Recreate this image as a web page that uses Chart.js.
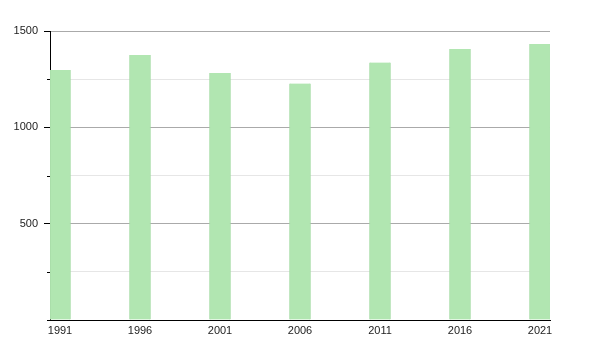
<!DOCTYPE html>
<html>
<head>
<meta charset="utf-8">
<script src="https://cdn.jsdelivr.net/npm/chart.js@4"></script>
<style>
  html, body { margin: 0; padding: 0; background: #fff; }
  #wrap { width: 600px; height: 350px; }
</style>
</head>
<body>
<div id="wrap"><canvas id="myChart" width="600" height="350"></canvas></div>
<script>
const years = [1991, 1996, 2001, 2006, 2011, 2016, 2021];
const population = [1297, 1375, 1282, 1227, 1336, 1406, 1432];
const yMajorTicks = [500, 1000, 1500];
const yMinorTicks = [0, 250, 750, 1250];

// short tick marks for the minor steps
const minorTicks = {
    id: 'minorTicks',
    afterDraw(chart) {
        const y = chart.scales.y
        const ctx = chart.ctx
        ctx.save()
        ctx.strokeStyle = '#000'
        ctx.lineWidth = 1
        yMinorTicks.forEach(v => {
            const py = Math.round(y.getPixelForValue(v)) + 0.5
            ctx.beginPath()
            ctx.moveTo(chart.chartArea.left - 3, py)
            ctx.lineTo(chart.chartArea.left, py)
            ctx.stroke()
        })
        ctx.restore()
    }
}

const ctx = document.getElementById('myChart');
new Chart(ctx, {
    type: 'bar',
    data: {
        datasets: [{
            data: years.map((yr, i) => ({ x: yr, y: population[i] })),
            backgroundColor: '#b1e6b1',
            borderColor: '#a6dca6',
            borderWidth: { left: 1, right: 1, top: 0, bottom: 0 },
            barThickness: 21
        }]
    },
    plugins: [minorTicks],
    options: {
        responsive: false,
        animation: false,
        layout: { padding: { left: 0, right: 50, top: 31, bottom: 0 } },
        plugins: {
            legend: { display: false },
            tooltip: { enabled: false }
        },
        scales: {
            x: {
                type: 'linear',
                offset: false,
                min: 1990.375,
                max: 2021.625,
                afterBuildTicks: scale => { scale.ticks = years.map(v => ({ value: v })) },
                afterFit: scale => { scale.height = 30 },
                grid: { display: false, drawTicks: false, offset: false },
                border: { display: true, color: '#000', width: 1 },
                ticks: {
                    autoSkip: false,
                    maxRotation: 0,
                    padding: 4,
                    color: '#222',
                    font: { family: 'Liberation Sans', size: 11 },
                    callback: v => String(v)
                }
            },
            y: {
                min: 0,
                max: 1500,
                afterBuildTicks: scale => {
                    scale.ticks = [0, 250, 500, 750, 1000, 1250, 1500].map(v => ({ value: v }))
                },
                afterFit: scale => { scale.width = 50 },
                border: { display: true, color: '#000', width: 1 },
                grid: {
                    color: c => yMajorTicks.includes(c.tick.value) ? '#aaaaaa' : '#e6e6e6',
                    tickColor: c => yMajorTicks.includes(c.tick.value) ? '#000' : 'rgba(0,0,0,0)',
                    tickLength: 6,
                    lineWidth: 1
                },
                ticks: {
                    padding: 6,
                    color: '#222',
                    font: { family: 'Liberation Sans', size: 11 },
                    callback: v => yMajorTicks.includes(v) ? String(v) : ''
                }
            }
        }
    }
});
</script>
</body>
</html>
